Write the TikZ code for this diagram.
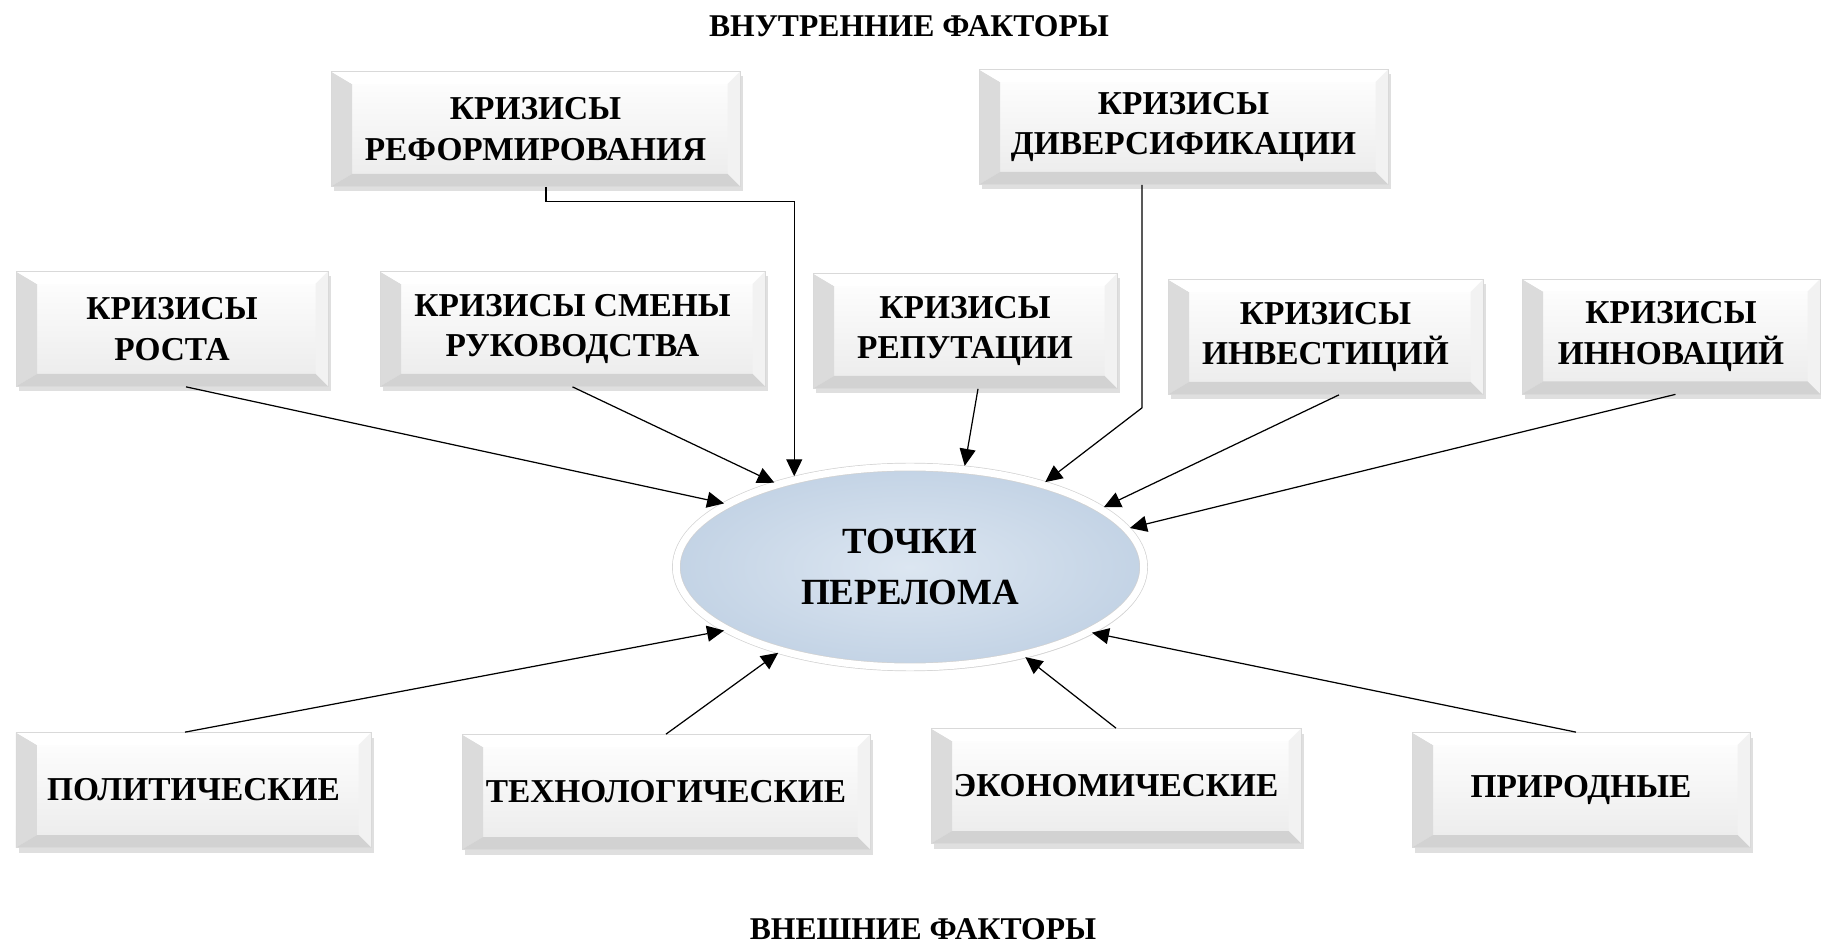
\documentclass[tikz,border=0pt]{standalone}
\usepackage{fontspec}
\setmainfont{Liberation Serif}
\usepackage{tikz}
\usetikzlibrary{shapes.geometric, arrows.meta, calc, shadows}
\usepackage{xcolor}
\definecolor{tpfill}{HTML}{DCE6F1}
\definecolor{tpedge}{HTML}{C3D3E5}

\begin{document}
\begin{tikzpicture}[
  box/.style={rectangle, draw=gray!30, minimum height=2.3cm, align=center,
    font=\fontsize{19}{23}\selectfont\bfseries, top color=white, bottom color=gray!16,
    drop shadow={shadow xshift=0.06cm, shadow yshift=-0.1cm, opacity=0.25},
    path picture={
      \path (path picture bounding box.north west) coordinate (bnw)
            (path picture bounding box.south east) coordinate (bse);
      \fill[gray!28] (bnw) -- (bnw |- bse) -- ++(0.42,0.25) -- ($(bnw)+(0.42,-0.25)$) -- cycle;
      \fill[white] (bnw) -- (bse |- bnw) -- ++(-0.25,-0.25) -- ($(bnw)+(0.42,-0.25)$) -- cycle;
      \fill[gray!10] (bse |- bnw) -- (bse) -- ++(-0.25,0.25) -- ($(bse |- bnw)+(-0.25,-0.25)$) -- cycle;
      \fill[gray!35] (bnw |- bse) -- (bse) -- ++(-0.25,0.25) -- ($(bnw |- bse)+(0.42,0.25)$) -- cycle;
    }},
  point/.style={ellipse, minimum width=9.35cm, minimum height=4.0cm, align=center,
    font=\fontsize{21}{29}\selectfont\bfseries, inner color=tpfill, outer color=tpedge,
    draw=gray!35, line width=0.4pt, double=white, double distance=4pt,
    drop shadow={shadow xshift=0.04cm, shadow yshift=-0.08cm, opacity=0.25}},
  title/.style={font=\fontsize{18}{21}\selectfont\bfseries},
  arrow/.style={-{Triangle[length=0.34cm, width=0.32cm]}, line width=0.7pt, shorten >=2pt}
]
  \useasboundingbox (0,0) rectangle (36.42,-18.86);

  % Titles
  \node[title] (inner) at (18.18,-0.52) {ВНУТРЕННИЕ ФАКТОРЫ};
  \node[title] (outer) at (18.46,-18.58) {ВНЕШНИЕ ФАКТОРЫ};

  % Centre
  \node[point] (tp) at (18.2,-11.34) {ТОЧКИ\\ПЕРЕЛОМА};

  % Internal crises
  \node[box, minimum width=8.18cm] (reform) at (10.71,-2.58) {КРИЗИСЫ\\РЕФОРМИРОВАНИЯ};
  \node[box, minimum width=8.18cm] (divers) at (23.67,-2.54) {КРИЗИСЫ\\ДИВЕРСИФИКАЦИИ};
  \node[box, minimum width=6.24cm] (rost) at (3.44,-6.58) {КРИЗИСЫ\\РОСТА};
  \node[box, minimum width=7.7cm] (smena) at (11.45,-6.58) {КРИЗИСЫ СМЕНЫ\\РУКОВОДСТВА};
  \node[box, minimum width=6.08cm] (reput) at (19.3,-6.62) {КРИЗИСЫ\\РЕПУТАЦИИ};
  \node[box, minimum width=6.3cm] (invest) at (26.51,-6.74) {КРИЗИСЫ\\ИНВЕСТИЦИЙ};
  \node[box, minimum width=5.96cm] (innov) at (33.42,-6.73) {КРИЗИСЫ\\ИННОВАЦИЙ};

  % External factors
  \node[box, minimum width=7.1cm] (polit) at (3.87,-15.8) {ПОЛИТИЧЕСКИЕ};
  \node[box, minimum width=8.16cm] (techn) at (13.32,-15.84) {ТЕХНОЛОГИЧЕСКИЕ};
  \node[box, minimum width=7.4cm] (econ) at (22.32,-15.72) {ЭКОНОМИЧЕСКИЕ};
  \node[box, minimum width=6.76cm] (prirod) at (31.62,-15.8) {ПРИРОДНЫЕ};

  \draw[arrow] ([xshift=0.21cm]reform.south) -- ++(0,-0.3) -| (tp.143);
  \draw[arrow] ([xshift=-0.83cm]divers.south) -- ++(0,-4.46) -- (tp.32);
  \draw[arrow] ([xshift=0.28cm]rost.south) -- (tp.161);
  \draw[arrow] (smena.south) -- (tp.148);
  \draw[arrow] ([xshift=0.26cm]reput.south) -- (tp.61);
  \draw[arrow] ([xshift=0.27cm]invest.south) -- (tp.17);
  \draw[arrow] ([xshift=0.09cm]innov.south) -- (tp.10);

  \draw[arrow] ([xshift=-0.17cm]polit.north) -- (tp.199);
  \draw[arrow] (techn.north) -- (tp.213);
  \draw[arrow] (econ.north) -- (tp.322);
  \draw[arrow] ([xshift=-0.1cm]prirod.north) -- (tp.340);
\end{tikzpicture}
\end{document}
